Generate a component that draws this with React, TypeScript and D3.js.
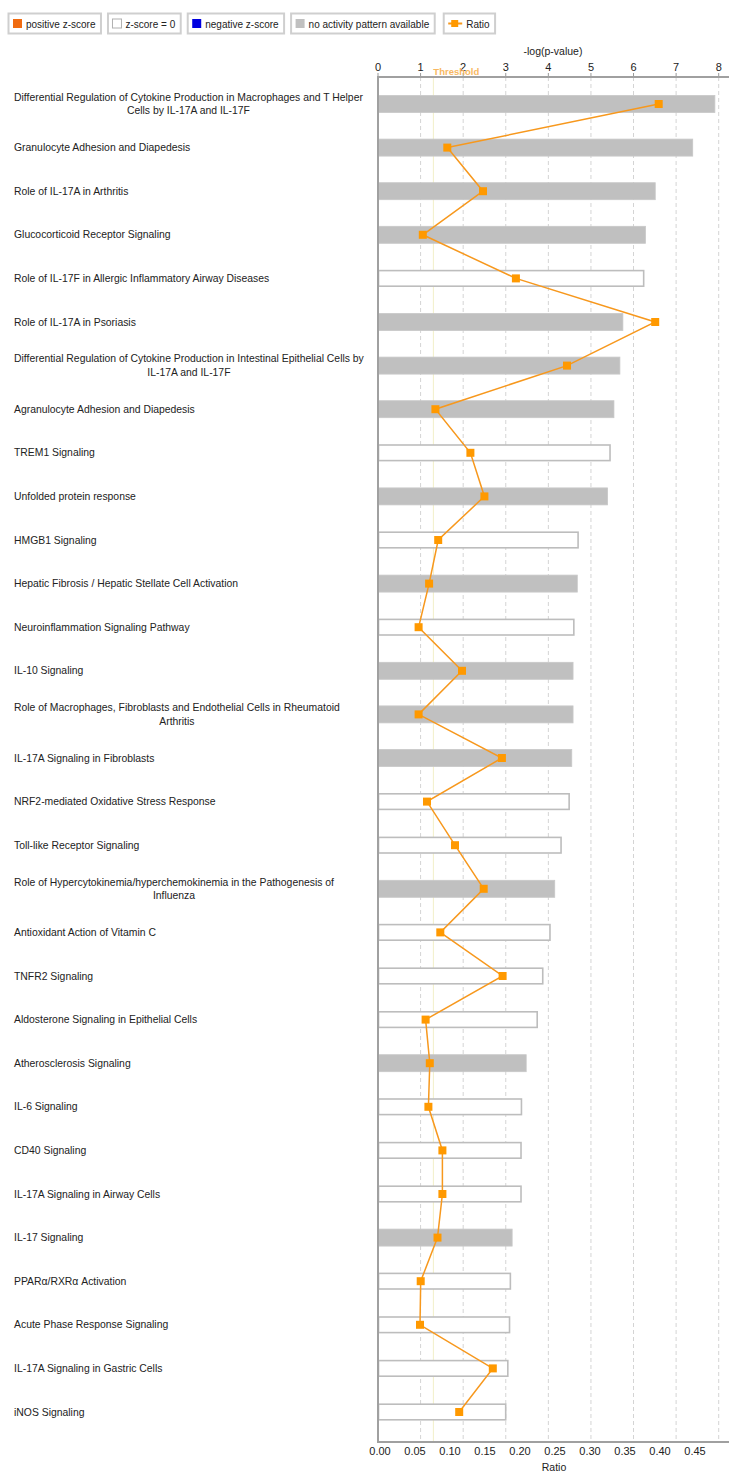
import React, { useEffect, useRef } from "react";
import * as d3 from "d3";

const categories: string[] = [
  "Differential Regulation of Cytokine Production in Macrophages and T Helper Cells by IL-17A and IL-17F",
  "Granulocyte Adhesion and Diapedesis",
  "Role of IL-17A in Arthritis",
  "Glucocorticoid Receptor Signaling",
  "Role of IL-17F in Allergic Inflammatory Airway Diseases",
  "Role of IL-17A in Psoriasis",
  "Differential Regulation of Cytokine Production in Intestinal Epithelial Cells by IL-17A and IL-17F",
  "Agranulocyte Adhesion and Diapedesis",
  "TREM1 Signaling",
  "Unfolded protein response",
  "HMGB1 Signaling",
  "Hepatic Fibrosis / Hepatic Stellate Cell Activation",
  "Neuroinflammation Signaling Pathway",
  "IL-10 Signaling",
  "Role of Macrophages, Fibroblasts and Endothelial Cells in Rheumatoid Arthritis",
  "IL-17A Signaling in Fibroblasts",
  "NRF2-mediated Oxidative Stress Response",
  "Toll-like Receptor Signaling",
  "Role of Hypercytokinemia/hyperchemokinemia in the Pathogenesis of Influenza",
  "Antioxidant Action of Vitamin C",
  "TNFR2 Signaling",
  "Aldosterone Signaling in Epithelial Cells",
  "Atherosclerosis Signaling",
  "IL-6 Signaling",
  "CD40 Signaling",
  "IL-17A Signaling in Airway Cells",
  "IL-17 Signaling",
  "PPARα/RXRα Activation",
  "Acute Phase Response Signaling",
  "IL-17A Signaling in Gastric Cells",
  "iNOS Signaling",
];

const negLogP: number[] = [
  7.91, 7.39, 6.51, 6.28, 6.25, 5.75, 5.68, 5.54, 5.46, 5.39, 4.71, 4.68, 4.61, 4.58, 4.58, 4.55,
  4.5, 4.31, 4.15, 4.05, 3.88, 3.75, 3.48, 3.38, 3.37, 3.37, 3.15, 3.12, 3.1, 3.06, 3.01,
];

const ratios: number[] = [
  0.401, 0.099, 0.15, 0.064, 0.197, 0.396, 0.27, 0.082, 0.132, 0.152, 0.086, 0.073, 0.058, 0.12,
  0.058, 0.177, 0.07, 0.11, 0.151, 0.089, 0.178, 0.068, 0.074, 0.072, 0.092, 0.092, 0.085, 0.061,
  0.06, 0.164, 0.116,
];

// "none" = no activity pattern available, "zero" = z-score = 0
const zStatus: string[] = [
  "none", "none", "none", "none", "zero", "none", "none", "none", "zero", "none", "zero", "none",
  "zero", "none", "none", "none", "zero", "zero", "none", "zero", "zero", "zero", "none", "zero",
  "zero", "zero", "none", "zero", "zero", "zero", "zero",
];

const pTicks: number[] = [0, 1, 2, 3, 4, 5, 6, 7, 8];
const ratioTicks: number[] = [0, 0.05, 0.1, 0.15, 0.2, 0.25, 0.3, 0.35, 0.4, 0.45];
const thresholdValue = 1.3;

const legendItems: { label: string; kind: string }[] = [
  { label: "positive z-score", kind: "pos" },
  { label: "z-score = 0", kind: "zero" },
  { label: "negative z-score", kind: "neg" },
  { label: "no activity pattern available", kind: "none" },
  { label: "Ratio", kind: "ratio" },
];

const W = 729;
const H = 1472;
const FONT = "'Liberation Sans', Arial, sans-serif";
const ORANGE = "#ff9900";
const LINE = "#f7981d";
const GRAY = "#c0c0c0";

export default function App() {
  const ref = useRef<SVGSVGElement | null>(null);

  useEffect(() => {
    const svg = d3.select(ref.current);
    svg.selectAll("*").remove();

    const left = 378;
    const right = 718.7;
    const top = 77;
    const bottom = 1442;

    const x = d3.scaleLinear().domain([0, 8]).range([left, right]);
    const xr = d3.scaleLinear().domain([0, 0.4867]).range([left, right]);
    const y = d3.scalePoint<string>().domain(categories).range([104, 1412]);

    // Legend
    const lg = svg.append("g").attr("font-family", FONT).attr("font-size", 10);
    let lx = 8;
    legendItems.forEach((it) => {
      const g = lg.append("g");
      const txt = g
        .append("text")
        .attr("x", lx + (it.kind === "ratio" ? 23 : 18))
        .attr("y", 27.5)
        .attr("fill", "#222")
        .text(it.label);
      const tw = (txt.node() as SVGTextElement).getComputedTextLength();
      const bw = (it.kind === "ratio" ? 23 : 18) + tw + 5;
      g.insert("rect", "text")
        .attr("x", lx + 0.5)
        .attr("y", 13.5)
        .attr("width", bw)
        .attr("height", 20)
        .attr("fill", "#fff")
        .attr("stroke", "#cfcfcf")
        .attr("stroke-width", 2);
      if (it.kind === "ratio") {
        g.append("line")
          .attr("x1", lx + 5)
          .attr("x2", lx + 19)
          .attr("y1", 23.5)
          .attr("y2", 23.5)
          .attr("stroke", LINE)
          .attr("stroke-width", 2);
        g.append("rect")
          .attr("x", lx + 8)
          .attr("y", 20)
          .attr("width", 7)
          .attr("height", 7)
          .attr("fill", ORANGE);
      } else {
        const fill =
          it.kind === "pos" ? "#f06b10" : it.kind === "neg" ? "#0000e0" : it.kind === "none" ? GRAY : "#fff";
        g.append("rect")
          .attr("x", lx + 5)
          .attr("y", 19)
          .attr("width", 9)
          .attr("height", 9)
          .attr("fill", fill)
          .attr("stroke", it.kind === "zero" ? "#b0b0b0" : "none")
          .attr("stroke-width", 1);
      }
      lx += bw + (it.kind === "none" ? 9 : 7);
    });

    // Axis title top
    svg
      .append("text")
      .attr("x", 553)
      .attr("y", 55)
      .attr("text-anchor", "middle")
      .attr("font-family", FONT)
      .attr("font-size", 10.5)
      .attr("fill", "#222")
      .text("-log(p-value)");

    // gridlines
    svg
      .append("g")
      .selectAll("line")
      .data(pTicks.filter((t) => t > 0))
      .join("line")
      .attr("x1", (d) => x(d))
      .attr("x2", (d) => x(d))
      .attr("y1", top)
      .attr("y2", bottom)
      .attr("stroke", "#d4d4d4")
      .attr("stroke-width", 1)
      .attr("stroke-dasharray", "4,3");

    // threshold line
    svg
      .append("line")
      .attr("x1", x(thresholdValue))
      .attr("x2", x(thresholdValue))
      .attr("y1", top)
      .attr("y2", bottom)
      .attr("stroke", "#f2efc8")
      .attr("stroke-width", 1);

    // top ticks
    const tg = svg.append("g").attr("font-family", FONT).attr("font-size", 11).attr("fill", "#222");
    tg.selectAll("text")
      .data(pTicks)
      .join("text")
      .attr("x", (d) => x(d))
      .attr("y", 71)
      .attr("text-anchor", "middle")
      .text((d) => String(d));
    tg.selectAll("line")
      .data(pTicks)
      .join("line")
      .attr("x1", (d) => x(d))
      .attr("x2", (d) => x(d))
      .attr("y1", top - 4)
      .attr("y2", top)
      .attr("stroke", "#999");

    svg
      .append("text")
      .attr("x", x(thresholdValue))
      .attr("y", 74.5)
      .attr("font-family", FONT)
      .attr("font-size", 9.5)
      .attr("font-weight", "bold")
      .attr("fill", "#f8b862")
      .text("Threshold");

    // bars
    svg
      .append("g")
      .selectAll("rect")
      .data(categories)
      .join("rect")
      .attr("x", (d, i) => (zStatus[i] === "zero" ? left + 0.5 : left))
      .attr("y", (d, i) => (y(d) as number) - (zStatus[i] === "zero" ? 7.8 : 8.5))
      .attr("width", (d, i) => x(negLogP[i]) - left - (zStatus[i] === "zero" ? 1 : 0))
      .attr("height", (d, i) => (zStatus[i] === "zero" ? 15.6 : 17))
      .attr("fill", (d, i) => (zStatus[i] === "zero" ? "#fff" : GRAY))
      .attr("stroke", (d, i) => (zStatus[i] === "zero" ? "#bdbdbd" : "#c8c8c8"))
      .attr("stroke-width", (d, i) => (zStatus[i] === "zero" ? 1.6 : 0.8));

    // axes lines
    svg
      .append("line")
      .attr("x1", left)
      .attr("x2", W)
      .attr("y1", top)
      .attr("y2", top)
      .attr("stroke", "#a0a0a0")
      .attr("stroke-width", 2);
    svg
      .append("line")
      .attr("x1", left)
      .attr("x2", W)
      .attr("y1", bottom)
      .attr("y2", bottom)
      .attr("stroke", "#a0a0a0")
      .attr("stroke-width", 2);
    svg
      .append("line")
      .attr("x1", left)
      .attr("x2", left)
      .attr("y1", top - 1)
      .attr("y2", bottom + 1)
      .attr("stroke", "#a0a0a0")
      .attr("stroke-width", 2);

    // ratio line
    const line = d3
      .line<string>()
      .x((d, i) => xr(ratios[i]))
      .y((d) => y(d) as number);
    svg
      .append("path")
      .datum(categories)
      .attr("d", line)
      .attr("fill", "none")
      .attr("stroke", LINE)
      .attr("stroke-width", 1.5);
    svg
      .append("g")
      .selectAll("rect")
      .data(categories)
      .join("rect")
      .attr("x", (d, i) => xr(ratios[i]) - 4)
      .attr("y", (d) => (y(d) as number) - 4)
      .attr("width", 8)
      .attr("height", 8)
      .attr("fill", ORANGE);

    // bottom ticks
    svg
      .append("g")
      .attr("font-family", FONT)
      .attr("font-size", 11)
      .attr("fill", "#222")
      .selectAll("text")
      .data(ratioTicks)
      .join("text")
      .attr("x", (d) => xr(d) + 2)
      .attr("y", 1455)
      .attr("text-anchor", "middle")
      .text((d) => d3.format(".2f")(d));
    svg
      .append("text")
      .attr("x", 554)
      .attr("y", 1471)
      .attr("text-anchor", "middle")
      .attr("font-family", FONT)
      .attr("font-size", 10.5)
      .attr("fill", "#222")
      .text("Ratio");

    // category labels with wrapping
    const maxW = 356;
    const lgG = svg.append("g").attr("font-family", FONT).attr("font-size", 10.4).attr("fill", "#222");
    categories.forEach((cat) => {
      const cy = y(cat) as number;
      const t = lgG.append("text").attr("x", 14).attr("y", cy + 3.5);
      const words = cat.split(" ");
      const lines: string[] = [];
      let cur = "";
      words.forEach((w) => {
        const test = cur ? cur + " " + w : w;
        t.text(test);
        if ((t.node() as SVGTextElement).getComputedTextLength() > maxW && cur) {
          lines.push(cur);
          cur = w;
        } else {
          cur = test;
        }
      });
      lines.push(cur);
      if (lines.length === 1) {
        t.text(cur);
      } else {
        t.text(lines[0]);
        const bw = (t.node() as SVGTextElement).getComputedTextLength();
        t.text(null);
        t.attr("text-anchor", "middle");
        const startY = cy + 3.5 - ((lines.length - 1) * 13.4) / 2;
        lines.forEach((ln, k) => {
          t.append("tspan")
            .attr("x", 14 + bw / 2)
            .attr("y", startY + k * 13.4)
            .text(ln);
        });
      }
    });
  }, []);

  return (
    <svg
      ref={ref}
      width={W}
      height={H}
      viewBox={`0 0 ${W} ${H}`}
      style={{ position: "absolute", left: 0, top: 0, background: "#fff" }}
    />
  );
}
